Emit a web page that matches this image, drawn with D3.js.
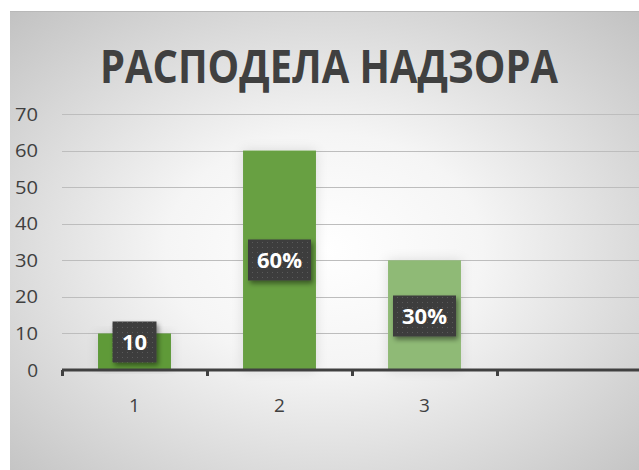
<!DOCTYPE html>
<html>
<head>
<meta charset="utf-8">
<script src="https://cdn.jsdelivr.net/npm/d3@7"></script>
<style>
  html, body { margin: 0; padding: 0; background: #fff; }
  svg { display: block; }
</style>
</head>
<body>
<svg id="chart" width="639" height="470"></svg>
<script>
const title = "РАСПОДЕЛА НАДЗОРА";
const categories = ["1", "2", "3", ""];
const values = [10, 60, 30, null];
const labels = ["10", "60%", "30%", null];
const barColors = ["#5e9a39", "#67a043", "#8fba76"];
const yTicks = [0, 10, 20, 30, 40, 50, 60, 70];

const svg = d3.select("#chart");
const W = 639, H = 470;
const defs = svg.append("defs");

const rg = defs.append("radialGradient").attr("id", "bg")
  .attr("cx", "0.5").attr("cy", "0.52").attr("r", "0.72")
  .attr("gradientUnits", "objectBoundingBox");
rg.append("stop").attr("offset", "0").attr("stop-color", "#ffffff");
rg.append("stop").attr("offset", "0.35").attr("stop-color", "#f5f5f5");
rg.append("stop").attr("offset", "1").attr("stop-color", "#c2c2c2");

const pat = defs.append("pattern").attr("id", "dots")
  .attr("width", 5).attr("height", 5).attr("patternUnits", "userSpaceOnUse");
pat.append("rect").attr("width", 5).attr("height", 5).attr("fill", "#3d3d3d");
pat.append("rect").attr("x", 2).attr("y", 2).attr("width", 1).attr("height", 1).attr("fill", "#5a5a5a");

const sh = defs.append("filter").attr("id", "shadow")
  .attr("x", "-30%").attr("y", "-30%").attr("width", "160%").attr("height", "170%");
sh.append("feDropShadow").attr("dx", 2).attr("dy", 3).attr("stdDeviation", 2.5)
  .attr("flood-color", "#000").attr("flood-opacity", 0.45);

const bsh = defs.append("filter").attr("id", "barglow")
  .attr("x", "-40%").attr("y", "-20%").attr("width", "180%").attr("height", "130%");
bsh.append("feDropShadow").attr("dx", 0).attr("dy", 0).attr("stdDeviation", 6)
  .attr("flood-color", "#000").attr("flood-opacity", 0.12);

// background
svg.append("rect").attr("x", 10).attr("y", 11).attr("width", W - 10).attr("height", H - 11)
  .attr("fill", "url(#bg)");
svg.append("line").attr("x1", 10).attr("x2", W).attr("y1", 11.5).attr("y2", 11.5)
  .attr("stroke", "#b8b8b8").attr("stroke-width", 1);

// scales
const x = d3.scaleBand().domain(d3.range(categories.length)).range([62, 642]).paddingInner(0).paddingOuter(0);
const y = d3.scaleLinear().domain([0, 70]).range([370, 114]);
const barW = x.bandwidth() * 0.503;

// gridlines
svg.append("g").selectAll("line").data(yTicks.filter(d => d > 0)).join("line")
  .attr("x1", 62).attr("x2", W)
  .attr("y1", d => Math.round(y(d)) + 0.5).attr("y2", d => Math.round(y(d)) + 0.5)
  .attr("stroke", "#bdbdbd").attr("stroke-width", 1.2);

// y axis labels
const yAxis = d3.axisLeft(y).tickValues(yTicks).tickSize(0).tickPadding(0);
const yg = svg.append("g").attr("transform", "translate(38,0)").call(yAxis);
yg.select(".domain").remove();
yg.selectAll("text").attr("font-family", "'Open Sans', sans-serif").attr("font-size", 19)
  .attr("fill", "#404040").attr("textLength", 23).attr("lengthAdjust", "spacingAndGlyphs");
yg.selectAll(".tick").filter(d => d === 0).select("text").attr("textLength", null);

// bars
const barData = values.map((v, i) => ({ v, i })).filter(d => d.v != null);
svg.append("g").selectAll("rect").data(barData).join("rect")
  .attr("x", d => x(d.i) + (x.bandwidth() - barW) / 2)
  .attr("y", d => y(d.v))
  .attr("width", barW)
  .attr("height", d => y(0) - y(d.v))
  .attr("fill", d => barColors[d.i])
  .attr("filter", "url(#barglow)");

// x axis
const xAxis = d3.axisBottom(d3.scaleLinear().domain([0, 4]).range([62, 642]))
  .tickValues([0, 1, 2, 3, 4]).tickSize(6).tickFormat("");
const xg = svg.append("g").attr("transform", "translate(0,370)").call(xAxis);
xg.select(".domain").attr("stroke", "#404040").attr("stroke-width", 3)
  .attr("d", "M62,0H642");
xg.selectAll(".tick line").attr("stroke", "#404040").attr("stroke-width", 3);

svg.append("g").selectAll("text").data(categories).join("text")
  .attr("x", (d, i) => x(i) + x.bandwidth() / 2)
  .attr("y", 412)
  .attr("text-anchor", "middle")
  .attr("font-family", "'Open Sans', sans-serif").attr("font-size", 19)
  .attr("fill", "#404040")
  .text(d => d);

// data labels
const lg = svg.append("g");
const lblData = labels.map((t, i) => ({ t, i, v: values[i] })).filter(d => d.t != null);
const lblCenterY = [342, 260, 316];
lblData.forEach(d => {
  const cx = x(d.i) + x.bandwidth() / 2;
  const cy = lblCenterY[d.i];
  const w = d.t.length === 2 ? 44 : 63;
  const h = 41;
  const g = lg.append("g");
  g.append("rect").attr("x", cx - w / 2).attr("y", cy - h / 2).attr("width", w).attr("height", h)
    .attr("fill", "url(#dots)").attr("filter", "url(#shadow)");
  g.append("text").attr("x", cx).attr("y", cy + 8).attr("text-anchor", "middle")
    .attr("font-family", "'Open Sans', sans-serif").attr("font-weight", "bold").attr("font-size", 22)
    .attr("fill", "#ffffff").text(d.t);
});

// title
const t = svg.append("text").attr("x", 329).attr("y", 83).attr("text-anchor", "middle")
  .attr("font-family", "'Open Sans', sans-serif").attr("font-weight", "bold").attr("font-size", 47)
  .attr("fill", "#404040").text(title);
const tl = t.node().getComputedTextLength();
if (tl > 458) { t.attr("textLength", 458).attr("lengthAdjust", "spacingAndGlyphs"); }
</script>
</body>
</html>
